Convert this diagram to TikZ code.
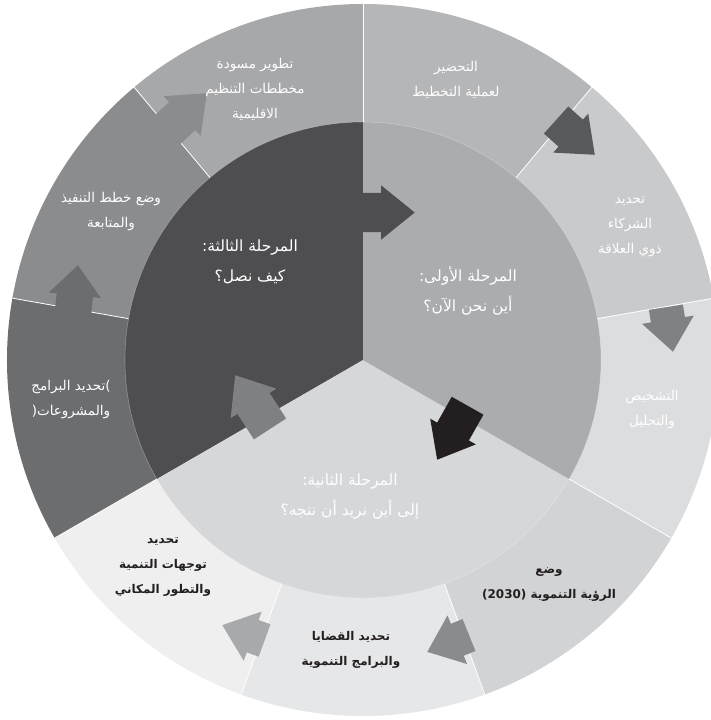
\documentclass[tikz,border=0pt]{standalone}
\usepackage{fontspec}
\usepackage{tikz}
\usetikzlibrary{positioning, shapes.arrows, calc}
\TeXXeTstate=1
\newfontfamily\arabicfont[Script=Arabic]{DejaVu Sans}
\newfontfamily\latinfont{DejaVu Sans}
\newcommand{\artext}[1]{\beginR #1\endR}
% ring colours
\definecolor{cdraft}{HTML}{A7A8AA}
\definecolor{cprep}{HTML}{B5B6B8}
\definecolor{cpartners}{HTML}{C9CACC}
\definecolor{cdiag}{HTML}{DCDDDF}
\definecolor{cvision}{HTML}{D2D3D5}
\definecolor{cissues}{HTML}{E6E7E8}
\definecolor{cdirect}{HTML}{EFEFEF}
\definecolor{cprogs}{HTML}{6C6D6F}
\definecolor{cplans}{HTML}{8B8C8E}
% core colours
\definecolor{cone}{HTML}{ABACAE}
\definecolor{ctwo}{HTML}{D6D7D9}
\definecolor{cthree}{HTML}{4E4E50}
\definecolor{txtdark}{HTML}{231F20}
% arrow colours
\definecolor{aback}{HTML}{7F8083}
\definecolor{aprep}{HTML}{58595B}
\definecolor{apartners}{HTML}{808184}
\definecolor{avision}{HTML}{8A8B8D}
\definecolor{aissues}{HTML}{A7A9AB}

\begin{document}
\begin{tikzpicture}[x=1pt, y=1pt,
  lbl/.style={font=\arabicfont\fontsize{13.5}{25}\selectfont, text=white, align=center, inner sep=0pt},
  lbldark/.style={lbl, font=\arabicfont\bfseries\fontsize{12}{25}\selectfont, text=txtdark},
  phase/.style={lbl, font=\arabicfont\fontsize{15.5}{30}\selectfont},
  blockarrow/.style n args={3}{single arrow, draw=none, fill=#1, rotate=#2, minimum height=#3,
    inner xsep=0pt, inner ysep=18pt, single arrow head extend=8pt, single arrow tip angle=78, anchor=tip},
]
  \useasboundingbox (-363,-360) rectangle (348,360);
  \clip (-363,-360) rectangle (348,360);
  \fill[white] (-363,-360) rectangle (348,360);

  % outer ring, nine steps of 40 degrees
  \foreach \a/\c in {130/cdraft, 90/cprep, 50/cpartners, 10/cdiag, 330/cvision, 290/cissues, 250/cdirect, 210/cprogs, 170/cplans}
    \fill[\c] (0,0) -- (\a:356) arc[start angle=\a, delta angle=-40, radius=356] -- cycle;
  \foreach \a in {10,50,...,330}
    \draw[white, line width=.8pt] (\a:238) -- (\a:356);

  % three phases
  \fill[cthree] (0,0) -- (90:238) arc[start angle=90, end angle=210, radius=238] -- cycle;
  \fill[ctwo] (0,0) -- (210:238) arc[start angle=210, end angle=330, radius=238] -- cycle;
  \fill[cone] (0,0) -- (330:238) arc[start angle=-30, end angle=90, radius=238] -- cycle;
  \draw[white, opacity=.3, line width=.6pt] (0,0) circle[radius=238];

  % arrows
  \node[blockarrow={cthree}{0}{75}, inner ysep=19.5pt, single arrow head extend=7.5pt] (ar31) at (52,147.5) {};
  \node[blockarrow={txtdark}{240.6}{62}] (ar12) at (74,-100) {};
  \node[blockarrow={aback}{123}{64}, inner ysep=19pt] (ar23) at (-128,-15) {};
  \node[blockarrow={cplans}{43}{65}, inner ysep=19pt] (arplans) at (-156,267) {};
  \node[blockarrow={cprogs}{84}{55}, single arrow tip angle=82] (arprogs) at (-285,95) {};
  \node[blockarrow={aprep}{-42}{52}] (arprep) at (232,205) {};
  \node[blockarrow={apartners}{-81}{45}, inner ysep=17pt, single arrow head extend=9pt] (arpartners) at (310,8) {};
  \node[blockarrow={avision}{-158}{45}, inner ysep=17pt, single arrow head extend=9pt] (arvision) at (64,-292) {};
  \node[blockarrow={aissues}{160}{45}, inner ysep=17pt, single arrow head extend=9pt] (arissues) at (-141,-265) {};

  % step labels
  \node[lbl] (draft) at (-108,271) {\artext{تطوير مسودة}\\\artext{مخططات التنظيم}\\\artext{الاقليمية}};
  \node[lbl] (prep) at (93,280) {\artext{التحضير}\\\artext{لعملية التخطيط}};
  \node[lbl] (partners) at (267,133) {\artext{تحديد}\\\artext{الشركاء}\\\artext{ذوي العلاقة}};
  \node[lbl] (diag) at (289,-50) {\artext{التشخيص}\\\artext{والتحليل}};
  \node[lbldark] (vision) at (186,-225) {\artext{وضع}\\\artext{الرؤية التنموية \beginL{\latinfont\bfseries (2030)}\endL}};
  \node[lbldark] (issues) at (-12,-290) {\artext{تحديد القضايا}\\\artext{والبرامج التنموية}};
  \node[lbldark] (direct) at (-200,-207) {\artext{تحديد}\\\artext{توجهات التنمية}\\\artext{والتطور المكاني}};
  \node[lbl] (progs) at (-292,-40) {\artext{تحديد البرامج}{\latinfont(}\\{\latinfont)}\artext{والمشروعات}};
  \node[lbl] (plans) at (-252,148) {\artext{وضع خطط التنفيذ}\\\artext{والمتابعة}};

  % phase labels
  \node[phase] (three) at (-113,98) {\artext{المرحلة الثالثة:}\\\artext{كيف نصل؟}};
  \node[phase] (one) at (105,69) {\artext{المرحلة الأولى:}\\\artext{أين نحن الآن؟}};
  \node[phase] (two) at (-13,-137) {\artext{المرحلة الثانية:}\\\artext{إلى أين نريد أن نتجه؟}};
\end{tikzpicture}
\end{document}
